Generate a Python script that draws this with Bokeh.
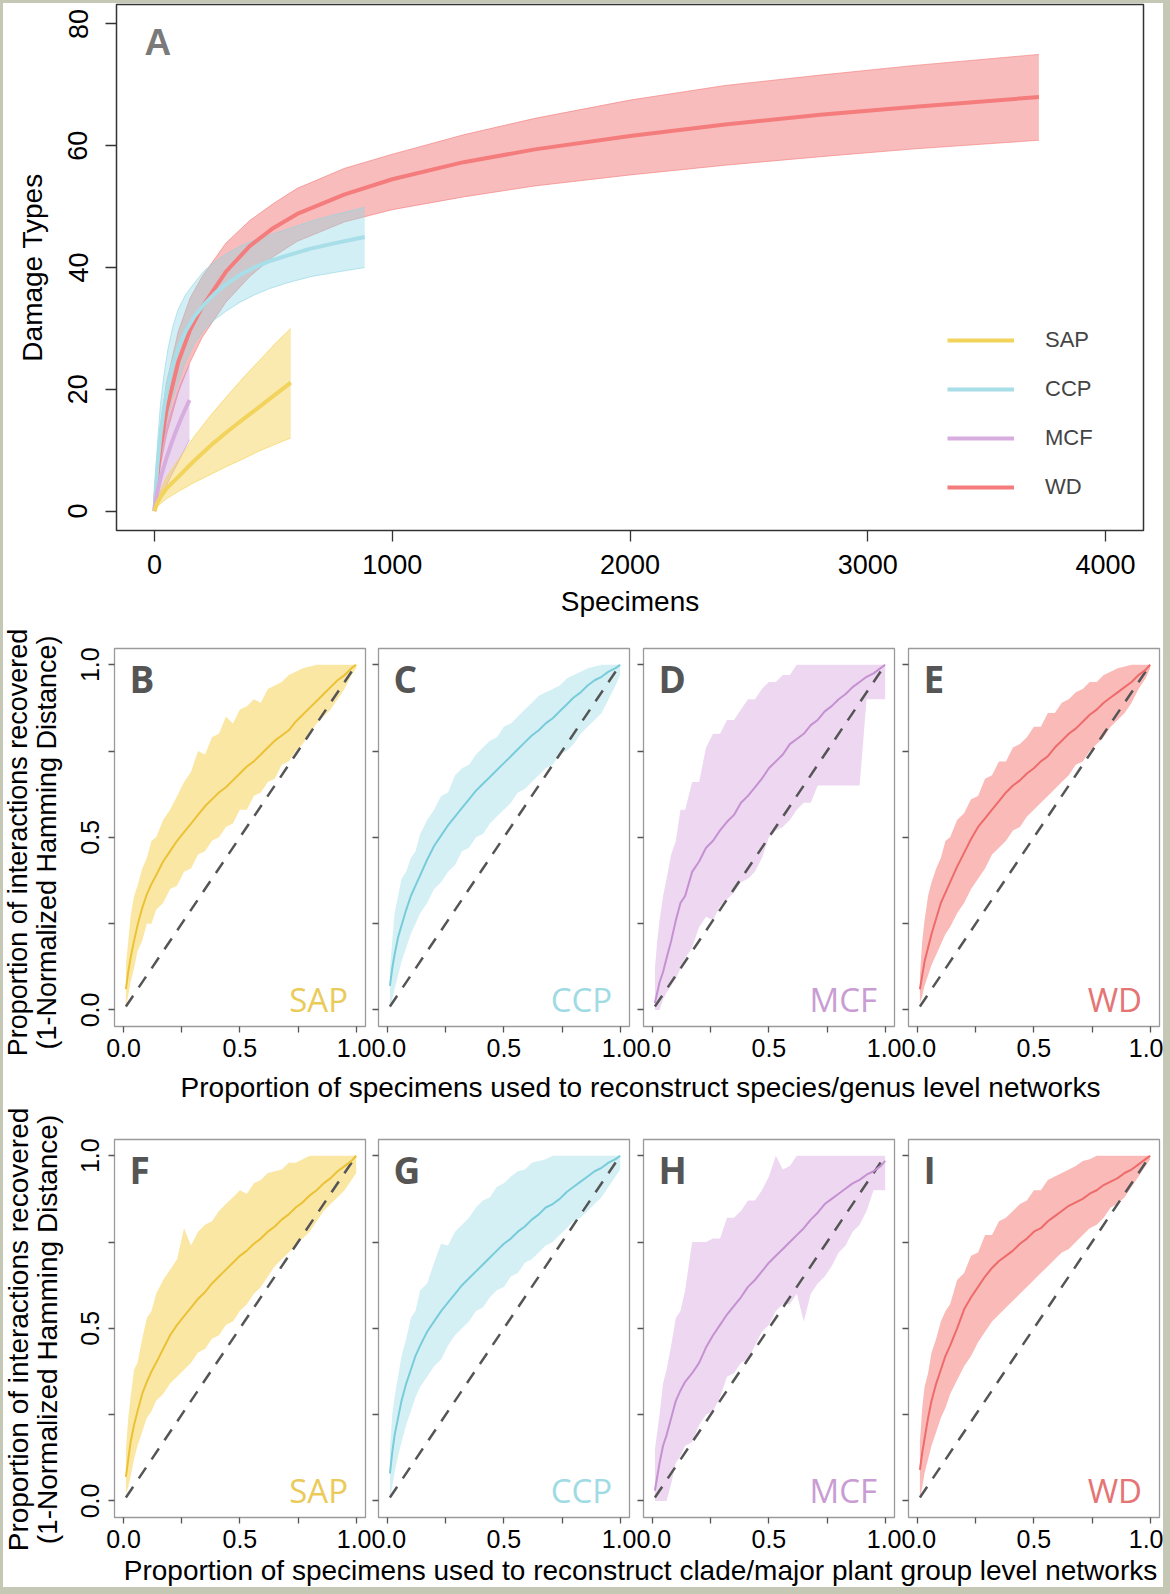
from bokeh.plotting import figure
from bokeh.models import FixedTicker, Legend, LegendItem, Label, Range1d
from bokeh.layouts import column, row
from bokeh.embed import file_html
from bokeh.resources import INLINE

# ---------------- Panel A data (rarefaction curves) ----------------
sap_n = [0, 10, 25, 50, 100, 168, 240, 308, 380, 448, 510, 573]
sap_mean = [0, 1.2, 2.3, 3.7, 5.6, 8.3, 10.9, 13.1, 15.3, 17.3, 19.2, 21.1]
sap_hi = [0, 1.8, 3.4, 5.5, 8.4, 12.3, 15.9, 19.0, 22.2, 25.0, 27.6, 30.0]
sap_lo = [0, 0.6, 1.2, 2.0, 3.2, 4.7, 6.1, 7.4, 8.7, 10.0, 11.0, 12.0]

ccp_n = [0, 5, 12, 25, 40, 56, 75, 98, 130, 168, 210, 255, 300, 360, 420, 481, 560, 657, 760, 884]
ccp_mean = [0, 3.5, 7.5, 12.5, 17.0, 20.5, 23.8, 26.6, 29.5, 32.0, 34.0, 35.8, 37.2, 38.8, 40.0, 41.0, 42.0, 43.1, 44.0, 45.0]
ccp_hi = [0, 5.5, 11, 17.5, 22.5, 26.5, 30, 33, 35.5, 37.5, 39.5, 41.0, 42.2, 43.5, 44.5, 45.3, 46.3, 47.6, 48.7, 49.9]
ccp_lo = [0, 2, 4.5, 8.5, 12.5, 15.5, 18.5, 21.0, 24.5, 27.5, 29.8, 31.5, 32.8, 34.3, 35.5, 36.5, 37.5, 38.5, 39.2, 40.0]

mcf_n = [0, 5, 12, 20, 28, 40, 50, 70, 90, 112, 130, 147]
mcf_mean = [0, 1.5, 3.2, 4.6, 5.8, 7.4, 8.7, 11.0, 13.1, 15.2, 16.8, 18.2]
mcf_hi = [0, 2.6, 5.6, 8.2, 10.1, 12.2, 13.6, 16.2, 18.6, 21.0, 22.6, 24.0]
mcf_lo = [0, 0.6, 1.3, 2.0, 2.6, 3.4, 4.2, 5.8, 7.3, 9.0, 10.4, 11.7]

wd_n = [0, 5, 12, 25, 50, 100, 150, 200, 300, 400, 500, 600, 800, 1000, 1300, 1600, 2000, 2400, 2800, 3200, 3720]
wd_mean = [0, 2.8, 6.0, 10.5, 16.5, 24.5, 29.8, 33.5, 39.3, 43.5, 46.5, 48.8, 52.0, 54.5, 57.3, 59.4, 61.6, 63.5, 65.1, 66.4, 68.0]
wd_hi = [0, 4.0, 8.5, 14.0, 21.0, 29.5, 35.0, 38.5, 44.0, 47.7, 50.5, 53.0, 56.3, 58.6, 61.8, 64.5, 67.5, 69.9, 71.6, 73.2, 75.0]
wd_lo = [0, 1.8, 4.0, 7.5, 12.5, 19.5, 24.5, 28.5, 34.3, 38.5, 41.8, 44.3, 47.5, 49.5, 51.6, 53.4, 55.2, 56.8, 58.2, 59.5, 60.9]

a_xticks = [0, 1000, 2000, 3000, 4000]
a_yticks = [0, 20, 40, 60, 80]
groups = ["SAP", "CCP", "MCF", "WD"]

# ---------------- Panels B-I data (proportion recovered) ----------------
frac = [0.01, 0.02, 0.03, 0.045, 0.06, 0.08, 0.10, 0.12, 0.14, 0.17, 0.20, 0.23, 0.26, 0.29,
        0.32, 0.35, 0.38, 0.41, 0.44, 0.47, 0.50, 0.53, 0.56, 0.59, 0.62, 0.65, 0.68, 0.71,
        0.74, 0.77, 0.80, 0.83, 0.86, 0.89, 0.92, 0.95, 0.98, 1.0]
diag_x = [0.01, 1.0]
diag_y = [0.01, 1.0]
prop_ticks = [0, 0.5, 1.0]
prop_minor = [0.25, 0.75]

# species/genus level (B-E)
sap_sp_mean = [0.06, 0.11, 0.15, 0.20, 0.245, 0.295, 0.335, 0.365, 0.39, 0.43, 0.46, 0.49, 0.515, 0.54, 0.565, 0.59, 0.61, 0.63, 0.645, 0.665, 0.685, 0.705, 0.72, 0.74, 0.76, 0.78, 0.795, 0.81, 0.835, 0.855, 0.875, 0.895, 0.915, 0.935, 0.955, 0.97, 0.99, 1.0]
sap_sp_hi = [0.13, 0.20, 0.27, 0.33, 0.36, 0.41, 0.44, 0.49, 0.50, 0.55, 0.58, 0.62, 0.66, 0.69, 0.75, 0.74, 0.79, 0.80, 0.85, 0.83, 0.87, 0.88, 0.90, 0.89, 0.93, 0.94, 0.95, 0.97, 0.98, 0.99, 0.995, 1.0, 1.0, 1.0, 1.0, 1.0, 1.0, 1.0]
sap_sp_lo = [0.01, 0.04, 0.08, 0.12, 0.17, 0.20, 0.25, 0.25, 0.29, 0.31, 0.35, 0.36, 0.40, 0.41, 0.45, 0.46, 0.49, 0.50, 0.53, 0.54, 0.58, 0.58, 0.62, 0.63, 0.66, 0.67, 0.71, 0.72, 0.75, 0.77, 0.80, 0.83, 0.85, 0.87, 0.90, 0.93, 0.97, 0.99]

ccp_sp_mean = [0.07, 0.12, 0.16, 0.21, 0.245, 0.29, 0.33, 0.36, 0.39, 0.435, 0.475, 0.505, 0.535, 0.56, 0.585, 0.61, 0.635, 0.655, 0.675, 0.695, 0.715, 0.735, 0.755, 0.775, 0.795, 0.81, 0.83, 0.845, 0.865, 0.885, 0.905, 0.92, 0.94, 0.955, 0.965, 0.98, 0.99, 1.0]
ccp_sp_hi = [0.12, 0.20, 0.28, 0.33, 0.38, 0.40, 0.44, 0.46, 0.51, 0.55, 0.58, 0.62, 0.63, 0.68, 0.70, 0.71, 0.74, 0.76, 0.78, 0.79, 0.82, 0.83, 0.85, 0.87, 0.89, 0.91, 0.92, 0.93, 0.94, 0.96, 0.97, 0.98, 0.99, 0.995, 1.0, 1.0, 1.0, 1.0]
ccp_sp_lo = [0.0, 0.03, 0.06, 0.10, 0.14, 0.18, 0.22, 0.25, 0.28, 0.31, 0.35, 0.37, 0.40, 0.42, 0.46, 0.47, 0.50, 0.51, 0.54, 0.56, 0.58, 0.60, 0.63, 0.64, 0.66, 0.68, 0.70, 0.71, 0.74, 0.75, 0.77, 0.80, 0.82, 0.84, 0.86, 0.90, 0.94, 0.97]

mcf_sp_mean = [0.02, 0.05, 0.08, 0.11, 0.15, 0.20, 0.26, 0.31, 0.33, 0.40, 0.43, 0.47, 0.49, 0.52, 0.545, 0.565, 0.60, 0.62, 0.645, 0.67, 0.70, 0.72, 0.74, 0.77, 0.785, 0.80, 0.825, 0.84, 0.865, 0.88, 0.90, 0.915, 0.935, 0.95, 0.965, 0.975, 0.99, 1.0]
mcf_sp_hi = [0.12, 0.20, 0.26, 0.33, 0.38, 0.45, 0.49, 0.58, 0.58, 0.66, 0.66, 0.76, 0.80, 0.80, 0.84, 0.84, 0.87, 0.90, 0.90, 0.93, 0.95, 0.95, 0.97, 0.97, 1.0, 1.0, 1.0, 1.0, 1.0, 1.0, 1.0, 1.0, 1.0, 1.0, 1.0, 1.0, 1.0, 1.0]
mcf_sp_lo = [0.0, 0.0, 0.0, 0.03, 0.05, 0.07, 0.09, 0.12, 0.15, 0.18, 0.24, 0.27, 0.26, 0.30, 0.32, 0.34, 0.37, 0.38, 0.40, 0.44, 0.50, 0.52, 0.53, 0.55, 0.58, 0.60, 0.60, 0.65, 0.65, 0.65, 0.65, 0.65, 0.65, 0.65, 0.90, 0.90, 0.90, 0.90]

wd_sp_mean = [0.06, 0.10, 0.14, 0.18, 0.22, 0.265, 0.31, 0.34, 0.37, 0.415, 0.455, 0.495, 0.53, 0.555, 0.58, 0.605, 0.63, 0.65, 0.665, 0.685, 0.70, 0.72, 0.735, 0.76, 0.78, 0.80, 0.815, 0.835, 0.855, 0.87, 0.89, 0.905, 0.92, 0.935, 0.95, 0.97, 0.985, 1.0]
wd_sp_hi = [0.10, 0.20, 0.26, 0.33, 0.37, 0.41, 0.44, 0.49, 0.50, 0.55, 0.57, 0.61, 0.62, 0.67, 0.68, 0.72, 0.72, 0.76, 0.77, 0.79, 0.82, 0.82, 0.86, 0.86, 0.89, 0.90, 0.92, 0.93, 0.95, 0.95, 0.97, 0.98, 0.99, 0.995, 1.0, 1.0, 1.0, 1.0]
wd_sp_lo = [0.02, 0.04, 0.07, 0.10, 0.13, 0.16, 0.19, 0.22, 0.24, 0.28, 0.31, 0.35, 0.38, 0.41, 0.45, 0.47, 0.49, 0.52, 0.53, 0.56, 0.58, 0.60, 0.62, 0.64, 0.66, 0.68, 0.71, 0.72, 0.75, 0.77, 0.79, 0.82, 0.84, 0.86, 0.89, 0.93, 0.96, 0.99]

# clade/major plant group level (F-I)
sap_cl_mean = [0.07, 0.12, 0.17, 0.22, 0.26, 0.31, 0.345, 0.375, 0.40, 0.44, 0.48, 0.51, 0.535, 0.56, 0.585, 0.605, 0.63, 0.65, 0.67, 0.69, 0.71, 0.725, 0.745, 0.76, 0.78, 0.795, 0.815, 0.83, 0.85, 0.865, 0.885, 0.90, 0.92, 0.935, 0.955, 0.97, 0.985, 1.0]
sap_cl_hi = [0.15, 0.24, 0.30, 0.38, 0.40, 0.47, 0.53, 0.55, 0.60, 0.64, 0.67, 0.70, 0.79, 0.74, 0.78, 0.80, 0.81, 0.84, 0.86, 0.88, 0.90, 0.89, 0.92, 0.93, 0.95, 0.955, 0.96, 0.98, 0.98, 0.99, 1.0, 1.0, 1.0, 1.0, 1.0, 1.0, 1.0, 1.0]
sap_cl_lo = [0.02, 0.04, 0.07, 0.12, 0.16, 0.20, 0.24, 0.26, 0.29, 0.31, 0.34, 0.36, 0.38, 0.40, 0.43, 0.44, 0.47, 0.48, 0.51, 0.52, 0.55, 0.57, 0.60, 0.62, 0.65, 0.68, 0.70, 0.72, 0.74, 0.76, 0.78, 0.81, 0.84, 0.86, 0.88, 0.90, 0.93, 0.95]

ccp_cl_mean = [0.08, 0.14, 0.19, 0.24, 0.29, 0.34, 0.38, 0.42, 0.45, 0.49, 0.52, 0.55, 0.575, 0.60, 0.625, 0.645, 0.665, 0.685, 0.705, 0.725, 0.745, 0.76, 0.78, 0.795, 0.815, 0.83, 0.85, 0.86, 0.875, 0.895, 0.91, 0.925, 0.94, 0.955, 0.965, 0.98, 0.99, 1.0]
ccp_cl_hi = [0.15, 0.25, 0.30, 0.36, 0.42, 0.47, 0.53, 0.55, 0.61, 0.63, 0.69, 0.745, 0.74, 0.78, 0.80, 0.82, 0.85, 0.87, 0.88, 0.91, 0.92, 0.94, 0.955, 0.96, 0.98, 0.985, 0.99, 1.0, 1.0, 1.0, 1.0, 1.0, 1.0, 1.0, 1.0, 1.0, 1.0, 1.0]
ccp_cl_lo = [0.01, 0.04, 0.08, 0.13, 0.17, 0.22, 0.26, 0.30, 0.33, 0.36, 0.39, 0.41, 0.45, 0.48, 0.50, 0.52, 0.55, 0.56, 0.59, 0.61, 0.62, 0.65, 0.66, 0.69, 0.70, 0.72, 0.74, 0.75, 0.77, 0.79, 0.81, 0.82, 0.84, 0.86, 0.88, 0.91, 0.94, 0.96]

mcf_cl_mean = [0.03, 0.07, 0.11, 0.16, 0.19, 0.24, 0.29, 0.32, 0.345, 0.37, 0.40, 0.445, 0.48, 0.51, 0.54, 0.565, 0.59, 0.62, 0.64, 0.665, 0.69, 0.71, 0.73, 0.75, 0.77, 0.79, 0.815, 0.835, 0.86, 0.875, 0.89, 0.905, 0.92, 0.93, 0.945, 0.955, 0.97, 0.985]
mcf_cl_hi = [0.15, 0.20, 0.25, 0.34, 0.38, 0.45, 0.53, 0.55, 0.61, 0.75, 0.75, 0.75, 0.76, 0.76, 0.82, 0.82, 0.84, 0.87, 0.87, 0.90, 0.94, 1.0, 0.96, 0.97, 1.0, 1.0, 1.0, 1.0, 1.0, 1.0, 1.0, 1.0, 1.0, 1.0, 1.0, 1.0, 1.0, 1.0]
mcf_cl_lo = [0.0, 0.0, 0.0, 0.0, 0.0, 0.05, 0.11, 0.13, 0.16, 0.17, 0.22, 0.25, 0.26, 0.30, 0.36, 0.37, 0.40, 0.41, 0.45, 0.49, 0.51, 0.55, 0.57, 0.57, 0.60, 0.52, 0.60, 0.63, 0.65, 0.68, 0.72, 0.74, 0.78, 0.80, 0.84, 0.90, 0.90, 0.90]

wd_cl_mean = [0.09, 0.14, 0.18, 0.24, 0.29, 0.34, 0.38, 0.42, 0.45, 0.50, 0.555, 0.59, 0.62, 0.65, 0.675, 0.695, 0.71, 0.725, 0.745, 0.76, 0.78, 0.79, 0.81, 0.825, 0.84, 0.855, 0.865, 0.875, 0.89, 0.90, 0.915, 0.925, 0.935, 0.95, 0.96, 0.975, 0.99, 1.0]
wd_cl_hi = [0.17, 0.27, 0.33, 0.37, 0.43, 0.47, 0.52, 0.55, 0.57, 0.64, 0.66, 0.71, 0.72, 0.77, 0.77, 0.81, 0.82, 0.84, 0.86, 0.87, 0.90, 0.90, 0.93, 0.94, 0.95, 0.96, 0.97, 0.985, 0.99, 1.0, 1.0, 1.0, 1.0, 1.0, 1.0, 1.0, 1.0, 1.0]
wd_cl_lo = [0.01, 0.04, 0.08, 0.12, 0.16, 0.20, 0.24, 0.27, 0.31, 0.35, 0.39, 0.42, 0.46, 0.49, 0.52, 0.54, 0.56, 0.58, 0.60, 0.62, 0.64, 0.66, 0.68, 0.70, 0.72, 0.73, 0.75, 0.77, 0.79, 0.80, 0.82, 0.85, 0.86, 0.88, 0.91, 0.94, 0.97, 0.99]

ylab1 = "Proportion of interactions recovered"
ylab2 = "(1-Normalized Hamming Distance)"
xlab_sp = "Proportion of specimens used to reconstruct species/genus level networks"
xlab_cl = "Proportion of specimens used to reconstruct clade/major plant group level networks"

# ---------------- styling ----------------
FONT = "Liberation Sans"
A_LINE = {"SAP": "#F2D35C", "CCP": "#A8DEE8", "MCF": "#D7ACDF", "WD": "#F47C7C"}
A_FILL = {"SAP": ("#F5D04E", 0.45), "CCP": ("#8DD6E3", 0.4), "MCF": ("#C795D5", 0.4), "WD": ("#F47A7A", 0.5)}
R_LINE = {"SAP": "#EBC136", "CCP": "#78CCDA", "MCF": "#C591D1", "WD": "#EE6B6B"}
R_FILL = {"SAP": "#FBE7A4", "CCP": "#D5F0F5", "MCF": "#EDD7F1", "WD": "#F9BAB8"}
R_TEXT = {"SAP": "#EACB5A", "CCP": "#A0DBE4", "MCF": "#C99DD3", "WD": "#E57575"}


def style_axis(ax, tick_out, label_size, tick_color):
    ax.axis_line_color = None
    ax.major_tick_in = 0
    ax.major_tick_out = tick_out
    ax.major_tick_line_color = tick_color
    ax.major_tick_line_width = 1.3
    ax.minor_tick_in = 0
    ax.minor_tick_out = tick_out
    ax.minor_tick_line_color = tick_color
    ax.minor_tick_line_width = 1.3
    ax.major_label_text_font = FONT
    ax.major_label_text_font_size = label_size
    ax.major_label_text_color = "black"
    ax.axis_label_text_font = FONT
    ax.axis_label_text_font_size = "28px"
    ax.axis_label_text_font_style = "normal"
    ax.axis_label_text_color = "black"


def blank_fig(w, h, xr, yr):
    f = figure(frame_width=w, frame_height=h, x_range=xr, y_range=yr, min_border=0,
               x_axis_location=None, y_axis_location=None,
               output_backend="svg", toolbar_location=None, tools="")
    f.outline_line_color = None
    f.xgrid.visible = False
    f.ygrid.visible = False
    return f


# ---------------- Panel A ----------------
pA = figure(frame_width=1027, frame_height=526, min_border_left=113, min_border_right=20,
            min_border_top=1, min_border_bottom=96,
            x_range=Range1d(-160, 4160), y_range=Range1d(-3.2, 83.2),
            output_backend="svg", toolbar_location=None, tools="")
pA.grid.visible = False
pA.outline_line_color = "#333333"
pA.outline_line_width = 1.5
pA.xaxis.ticker = FixedTicker(ticks=a_xticks)
pA.yaxis.ticker = FixedTicker(ticks=a_yticks)
style_axis(pA.xaxis[0], 11, "27px", "#333333")
style_axis(pA.yaxis[0], 11, "27px", "#333333")
pA.yaxis.major_label_orientation = "vertical"
pA.xaxis.axis_label = "Specimens"
pA.yaxis.axis_label = "Damage Types"
pA.xaxis.major_label_standoff = 13
pA.xaxis.axis_label_standoff = 9
pA.yaxis.major_label_standoff = 18
pA.yaxis.axis_label_standoff = 18

a_series = {
    "SAP": (sap_n, sap_mean, sap_hi, sap_lo),
    "CCP": (ccp_n, ccp_mean, ccp_hi, ccp_lo),
    "MCF": (mcf_n, mcf_mean, mcf_hi, mcf_lo),
    "WD": (wd_n, wd_mean, wd_hi, wd_lo),
}
for g in ["WD", "CCP", "MCF", "SAP"]:
    n, m, hi, lo = a_series[g]
    fc, fa = A_FILL[g]
    pA.varea(x=n, y1=lo, y2=hi, fill_color=fc, fill_alpha=fa)
    pA.line(n, hi, line_color=fc, line_alpha=0.6, line_width=1)
    pA.line(n, lo, line_color=fc, line_alpha=0.6, line_width=1)
mean_r = {}
for g in ["WD", "CCP", "MCF", "SAP"]:
    n, m, hi, lo = a_series[g]
    mean_r[g] = pA.line(n, m, line_color=A_LINE[g], line_width=4)

legend = Legend(items=[LegendItem(label=g, renderers=[mean_r[g]]) for g in groups],
                location=(831, 30), orientation="vertical", border_line_color=None,
                background_fill_alpha=0, padding=0, margin=0, glyph_width=67,
                glyph_height=26, label_height=26, label_standoff=31, spacing=23,
                label_text_font=FONT, label_text_font_size="22px")
pA.add_layout(legend)
pA.add_layout(Label(x=-42, y=76.9, text="A", text_align="left", text_baseline="middle",
                    text_font=FONT, text_font_style="bold", text_font_size="37px",
                    text_color="#7a7a7a"))


# ---------------- Panels B-I ----------------
def make_panel(letter, g, mean, hi, lo, first, top, bottom, left, right):
    p = figure(frame_width=251, frame_height=378, min_border_left=left, min_border_right=right,
               min_border_top=top, min_border_bottom=bottom,
               x_range=Range1d(-0.039, 1.04), y_range=Range1d(-0.048, 1.047),
               output_backend="svg", toolbar_location=None, tools="")
    p.grid.visible = False
    p.outline_line_color = "#9a9a9a"
    p.outline_line_width = 1.3
    p.xaxis.ticker = FixedTicker(ticks=prop_ticks, minor_ticks=prop_minor)
    p.yaxis.ticker = FixedTicker(ticks=prop_ticks, minor_ticks=prop_minor)
    style_axis(p.xaxis[0], 6, "25px", "#555555")
    style_axis(p.yaxis[0], 6, "25px", "#555555")
    p.xaxis.major_label_standoff = 6
    p.xaxis.major_label_overrides = {0: "0.0", 0.5: "0.5", 1: "1.0"}
    p.yaxis.major_label_overrides = {0: "0.0", 0.5: "0.5", 1: "1.0"}
    if first:
        p.yaxis.major_label_orientation = "vertical"
        p.yaxis.major_label_standoff = 9
    else:
        p.yaxis.major_label_text_color = None
        p.yaxis.major_label_text_font_size = "1px"
        p.yaxis.major_label_standoff = 0
    p.varea(x=frac, y1=lo, y2=hi, fill_color=R_FILL[g])
    p.line(diag_x, diag_y, line_color="#555555", line_width=2.5, line_dash="13 10")
    p.line(frac, mean, line_color=R_LINE[g], line_width=2)
    p.add_layout(Label(x=0.026, y=0.96, text=letter, text_align="left", text_baseline="middle",
                       text_font="Open Sans", text_font_style="bold", text_font_size="37px",
                       text_color="#555555"))
    p.add_layout(Label(x=0.965, y=0.03, text=g, text_align="right", text_baseline="middle",
                       text_font="Open Sans", text_font_size="33px", text_color=R_TEXT[g]))
    return p


def make_ylab(top, bottom, size, shift):
    h = top + 378 + bottom
    f = blank_fig(62, h, Range1d(0, 62), Range1d(0, h))
    for xx, t in ((14.5, ylab1), (43.5, ylab2)):
        f.add_layout(Label(x=xx, y=bottom + 189 - shift, text=t, angle=90, angle_units="deg",
                           text_align="center", text_baseline="middle", text_font=FONT,
                           text_font_size=size, text_color="black"))
    return column(f, spacing=0)


sp_data = [("B", "SAP", sap_sp_mean, sap_sp_hi, sap_sp_lo),
           ("C", "CCP", ccp_sp_mean, ccp_sp_hi, ccp_sp_lo),
           ("D", "MCF", mcf_sp_mean, mcf_sp_hi, mcf_sp_lo),
           ("E", "WD", wd_sp_mean, wd_sp_hi, wd_sp_lo)]
cl_data = [("F", "SAP", sap_cl_mean, sap_cl_hi, sap_cl_lo),
           ("G", "CCP", ccp_cl_mean, ccp_cl_hi, ccp_cl_lo),
           ("H", "MCF", mcf_cl_mean, mcf_cl_hi, mcf_cl_lo),
           ("I", "WD", wd_cl_mean, wd_cl_hi, wd_cl_lo)]

borders_lr = [(49, 6), (7, 7), (7, 7), (7, 4)]


def make_row(data, top, bottom, lab_size, shift):
    figs = [make_ylab(top, bottom, lab_size, shift)]
    for i, (letter, g, m, hi, lo) in enumerate(data):
        l, r = borders_lr[i]
        figs.append(make_panel(letter, g, m, hi, lo, i == 0, top, bottom, l, r))
    return row(*figs, spacing=0)


def make_strip(text, h, y):
    s = blank_fig(1160, h, Range1d(0, 1160), Range1d(0, h))
    s.add_layout(Label(x=637, y=y, text=text, text_align="center", text_baseline="middle",
                       text_font=FONT, text_font_size="28px", text_color="black"))
    return row(s, spacing=0)


row1 = make_row(sp_data, 22, 39, "27px", 5)
strip1 = make_strip(xlab_sp, 41, 19)
row2 = make_row(cl_data, 33, 36, "28px", 1)
strip2 = make_strip(xlab_cl, 34, 17)

inner = column(pA, row1, strip1, row2, strip2, spacing=0,
               styles={"background-color": "white"})
layout = column(inner, spacing=0,
                styles={"background-color": "#c4c8b5", "padding": "3px 7px 7px 3px"})

with open("out.html", "w") as f:
    f.write(file_html(layout, INLINE))
